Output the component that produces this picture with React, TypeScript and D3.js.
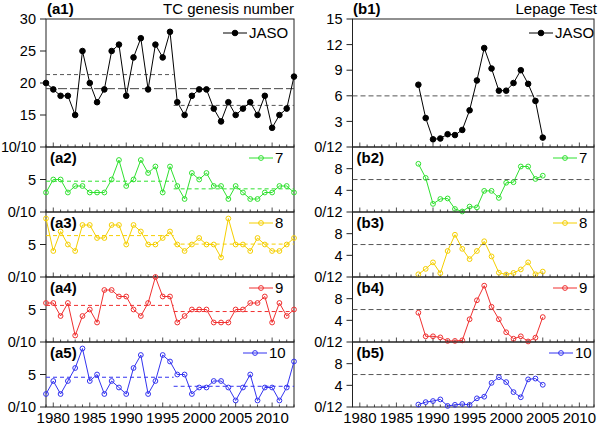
import * as d3 from "d3";

// TC genesis counts, 1979-2013
const years = d3.range(1979, 2014);
const jaso = [20, 19, 18, 18, 15, 25, 20, 17, 19, 25, 26, 18, 24, 27, 19, 26, 24, 28, 17, 15, 18, 19, 19, 16, 14, 17, 15, 16, 17, 15, 18, 13, 15, 16, 21];
const jul = [3, 5, 5, 3, 4, 4, 3, 3, 3, 5, 8, 4, 5, 8, 6, 7, 3, 7, 4, 2, 6, 5, 6, 4, 4, 2, 4, 3, 2, 2, 3, 3, 4, 4, 3];
const aug = [9, 4, 7, 5, 4, 8, 8, 6, 6, 8, 8, 5, 8, 7, 5, 5, 6, 7, 5, 4, 5, 6, 5, 5, 3, 9, 5, 5, 4, 6, 5, 4, 4, 5, 6];
const sep = [6, 6, 4, 6, 1, 4, 5, 3, 8, 8, 7, 7, 5, 4, 6, 10, 7, 7, 3, 4, 5, 5, 5, 3, 3, 3, 5, 5, 6, 6, 7, 3, 6, 4, 5];
const oct = [2, 4, 2, 4, 6, 9, 4, 5, 2, 4, 3, 2, 6, 8, 2, 4, 8, 7, 5, 5, 2, 3, 3, 4, 4, 3, 1, 3, 5, 1, 3, 3, 1, 3, 7];

// Lepage statistic, 1988-2005
const lepYears = d3.range(1988, 2006);
const lepJaso = [7.3, 3.4, 0.9, 1.0, 1.5, 1.4, 2.0, 4.3, 7.8, 11.6, 9.2, 6.6, 6.6, 7.5, 9.0, 7.4, 5.4, 1.1];
const lepJul = [8.9, 6.3, 1.5, 2.4, 2.5, 0.55, 0.1, 1.0, 0.85, 3.9, 3.9, 2.6, 5.4, 5.5, 8.4, 8.4, 6.1, 6.7];
const lepAug = [0.5, 1.5, 2.7, 0.7, 4.8, 7.8, 5.2, 3.3, 4.8, 6.6, 3.8, 0.8, 0.45, 0.75, 1.4, 2.7, 0.5, 1.0];
const lepSep = [5.4, 1.05, 1.05, 0.85, 0.2, 0.2, 0.3, 4.2, 7.7, 10.4, 6.5, 4.2, 1.8, 0.6, 1.05, 0.1, 0.8, 4.6];
const lepOct = [0.45, 0.9, 1.1, 1.4, 0.2, 0.4, 0.55, 0.4, 1.6, 1.9, 4.45, 5.5, 4.6, 2.75, 1.8, 5.1, 5.25, 4.1];

const splitYear = 1998;
const lepageCrit = 5.99;

const yearTicks = [1980, 1985, 1990, 1995, 2000, 2005, 2010];
const aTopTicks = [15, 20, 25, 30];
const aSubTicks = [5];
const bTopTicks = [3, 6, 9, 12, 15];
const bSubTicks = [4, 8];
const aJoinLabels = ["10/10", "0/10", "0/10", "0/10", "0/10"];
const bJoinLabels = ["0/12", "0/12", "0/12", "0/12", "0/12"];
const seriesNames = ["JASO", "7", "8", "9", "10"];
const colors = ["#000000", "#2fe12f", "#f5cf00", "#f03030", "#3333f0"];

const FONT = "'Liberation Sans', Arial, Helvetica, sans-serif";
const rowTop = [19, 147, 212, 277, 342];
const rowBottom = [147, 212, 277, 342, 407];

const xA = d3.scaleLinear().domain([1979, 2013]).range([46, 294]);
const xB = d3.scaleLinear().domain([1979, 2012]).range([352.5, 594]);

const aData = [jaso, jul, aug, sep, oct];
const bData = [lepJaso, lepJul, lepAug, lepSep, lepOct];

function XTicks({ x, y }: { x: d3.ScaleLinear<number, number>; y: number }) {
  const [d0, d1] = x.domain();
  return (
    <g stroke="#222" strokeWidth={0.8}>
      {d3.range(d0, d1 + 1).map((yr) => (
        <line key={yr} x1={x(yr)} x2={x(yr)} y1={y} y2={y - (yr % 5 === 0 ? 4.5 : 2.5)} />
      ))}
    </g>
  );
}

function Panel({
  i, side, x, values, xs,
}: {
  i: number; side: "a" | "b"; x: d3.ScaleLinear<number, number>; values: number[]; xs: number[];
}) {
  const top = rowTop[i];
  const bottom = rowBottom[i];
  const domain = side === "a" ? (i === 0 ? [10, 30] : [0, 10]) : i === 0 ? [0, 15] : [0, 12];
  const y = d3.scaleLinear().domain(domain).range([bottom, top]);
  const ticks = side === "a" ? (i === 0 ? aTopTicks : aSubTicks) : i === 0 ? bTopTicks : bSubTicks;
  const joinLabel = side === "a" ? aJoinLabels[i] : bJoinLabels[i];
  const color = colors[i];
  const [x0, x1] = x.range();
  const line = d3.line<number>().x((_, k) => x(xs[k])).y((d) => y(d));
  const labelX = x0 - 10;

  let means: JSX.Element | null = null;
  if (side === "a") {
    const before = values.filter((_, k) => xs[k] < splitYear);
    const after = values.filter((_, k) => xs[k] >= splitYear);
    const mAll = d3.mean(values) as number;
    const m1 = d3.mean(before) as number;
    const m2 = d3.mean(after) as number;
    const dashColor = i === 0 ? "#555" : color;
    const mid = x(splitYear - 1.5);
    means = (
      <g fill="none" strokeWidth={1}>
        {i === 0 && (
          <line x1={x0} x2={x1} y1={y(mAll)} y2={y(mAll)} stroke="#444" strokeDasharray="9,3" />
        )}
        <line x1={x0} x2={mid} y1={y(m1)} y2={y(m1)} stroke={dashColor} strokeDasharray="4,3" />
        <line x1={mid} x2={x1} y1={y(m2)} y2={y(m2)} stroke={dashColor} strokeDasharray="4,3" />
      </g>
    );
  } else {
    means = (
      <line x1={x0} x2={x1} y1={y(lepageCrit)} y2={y(lepageCrit)} stroke="#555" strokeWidth={1} strokeDasharray="5,3" />
    );
  }

  const legY = top + (i === 0 ? 14 : 11);
  const legStart = side === "a" ? (i === 0 ? 223 : i === 4 ? 243 : 249) : i === 0 ? 529 : i === 4 ? 549 : 553;
  const filled = i === 0;

  return (
    <g>
      <rect x={x0} y={top} width={x1 - x0} height={bottom - top} fill="none" stroke="#222" strokeWidth={1} />
      <XTicks x={x} y={bottom} />
      <g stroke="#222" strokeWidth={1}>
        {[...ticks, domain[0]].map((t) => (
          <line key={t} x1={x0 - 6} x2={x0} y1={y(t)} y2={y(t)} />
        ))}
      </g>
      <g fontFamily={FONT} fontSize={14.5} fill="#000" textAnchor="end">
        {ticks.map((t) => (
          <text key={t} x={labelX} y={y(t) + 5.2}>{t}</text>
        ))}
        <text x={labelX} y={bottom + 5.2} textLength={side === "a" && i === 0 ? 35 : undefined}>
          {joinLabel}
        </text>
      </g>
      {means}
      <path d={line(values) || ""} fill="none" stroke={color} strokeWidth={1} />
      {values.map((v, k) => (
        <circle
          key={k}
          cx={x(xs[k])}
          cy={y(v)}
          r={filled ? 2.8 : 2.4}
          fill={filled ? "#000" : "none"}
          stroke={color}
          strokeWidth={1}
        />
      ))}
      {i > 0 && (
        <text x={x0 + 4} y={top + 16} fontFamily={FONT} fontSize={15} fontWeight="bold" fill="#000">
          ({side}{i + 1})
        </text>
      )}
      <line x1={legStart} x2={legStart + 24} y1={legY} y2={legY} stroke={color} strokeWidth={1} />
      <circle cx={legStart + 12} cy={legY} r={filled ? 2.8 : 2.4} fill={filled ? "#000" : "none"} stroke={color} strokeWidth={1} />
      <text x={legStart + 26} y={legY + 5.3} fontFamily={FONT} fontSize={15} fill="#000">
        {seriesNames[i]}
      </text>
    </g>
  );
}

export default function App() {
  return (
    <svg width={600} height={425} style={{ position: "absolute", left: 0, top: 0, background: "#fff" }}>
      <rect width={600} height={425} fill="#fff" />
      {aData.map((vals, i) => (
        <Panel key={"a" + i} i={i} side="a" x={xA} values={vals} xs={years} />
      ))}
      {bData.map((vals, i) => (
        <Panel key={"b" + i} i={i} side="b" x={xB} values={vals} xs={lepYears} />
      ))}
      <g fontFamily={FONT} fontSize={15} fill="#000">
        <text x={47} y={14} fontWeight="bold">(a1)</text>
        <text x={294} y={14} textAnchor="end">TC genesis number</text>
        <text x={353} y={14} fontWeight="bold">(b1)</text>
        <text x={597} y={14} textAnchor="end">Lepage Test</text>
      </g>
      <g fontFamily={FONT} fontSize={15} fill="#000" textAnchor="middle">
        {yearTicks.map((t) => (
          <text key={"xa" + t} x={xA(t)} y={423}>{t}</text>
        ))}
        {yearTicks.map((t) => (
          <text key={"xb" + t} x={xB(t)} y={423}>{t}</text>
        ))}
      </g>
    </svg>
  );
}
